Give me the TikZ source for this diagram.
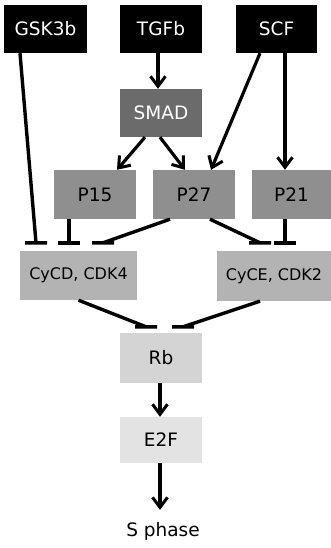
\documentclass[tikz,border=0pt]{standalone}
\usepackage{fontspec}
\setmainfont{DejaVu Sans}
\usetikzlibrary{arrows.meta}
\definecolor{csmad}{HTML}{6B6B6B}
\definecolor{cp}{HTML}{8F8F8F}
\definecolor{ccy}{HTML}{B3B3B3}
\definecolor{crb}{HTML}{D4D4D4}
\definecolor{ce2f}{HTML}{E3E3E3}
\tikzset{
  box/.style={rectangle, inner sep=0pt, minimum height=48pt, font=\fontsize{18.5}{22}\selectfont},
  topbox/.style={box, fill=black, text=white, minimum width=82pt},
  act/.style={line width=3.2pt, -{Straight Barb[length=10pt,width=15pt,line width=3pt]}},
  inh/.style={line width=3.4pt, to path={-- (\tikztotarget) \tikztonodes (\tikztotarget) ++(-11pt,0) -- ++(22pt,0)}},
}
\begin{document}
\begin{tikzpicture}[x=1pt,y=-1pt]
\useasboundingbox (0,0) rectangle (331,548);
\fill[white] (0,0) rectangle (331,548);
% nodes
\node[topbox, minimum width=83pt] (gsk) at (45.5,29) {GSK3b};
\node[topbox] (tgf) at (161,29) {TGFb};
\node[topbox, minimum width=81pt] (scf) at (276.5,29) {SCF};
\node[box, fill=csmad, text=white, minimum width=82pt] (smad) at (161,113) {SMAD};
\node[box, fill=cp, minimum width=82pt, minimum height=49pt] (p15) at (95,194.5) {P15};
\node[box, fill=cp, minimum width=82pt, minimum height=49pt] (p27) at (194,194.5) {P27};
\node[box, fill=cp, minimum width=79pt, minimum height=49pt] (p21) at (291.5,194.5) {P21};
\node[box, fill=ccy, minimum width=117pt, minimum height=49pt, font=\fontsize{16}{19}\selectfont] (cycd) at (78.5,275.5) {CyCD, CDK4};
\node[box, fill=ccy, minimum width=114pt, minimum height=50pt, font=\fontsize{16}{19}\selectfont] (cyce) at (274,276) {CyCE, CDK2};
\node[box, fill=crb, minimum width=82pt, minimum height=50pt] (rb) at (161,358) {Rb};
\node[box, fill=ce2f, minimum width=82pt, minimum height=46pt] (e2f) at (161,440) {E2F};
\node[inner sep=0pt, font=\fontsize{18.5}{22}\selectfont] (sph) at (163,531) {S phase};
% activation
\draw[act] ([xshift=-3pt]tgf.south) -- ([xshift=-3pt]smad.north);
\draw[act] ([xshift=-16pt]smad.south) -- ([xshift=22pt]p15.north);
\draw[act] ([xshift=-1pt]smad.south) -- ([xshift=-9pt]p27.north);
\draw[act] ([xshift=-16.5pt]scf.south) -- ([xshift=17pt]p27.north);
\draw[act] ([xshift=8.5pt]scf.south) -- ([xshift=-6.5pt]p21.north);
\draw[act] ([xshift=-1pt]rb.south) -- ([xshift=-1pt]e2f.north);
\draw[act] ([xshift=-1pt]e2f.south) -- ([xshift=-3pt,yshift=12pt]sph.north);
% inhibition
\draw[inh] ([xshift=-25.5pt]gsk.south) to ([xshift=-42.5pt,yshift=8pt]cycd.north);
\draw[inh] ([xshift=-26pt]p15.south) to ([xshift=-9.5pt,yshift=8pt]cycd.north);
\draw[inh] ([xshift=-24pt]p27.south) to ([xshift=24.5pt,yshift=8pt]cycd.north);
\draw[inh] ([xshift=16pt]p27.south) to ([xshift=-14pt,yshift=8pt]cyce.north);
\draw[inh] ([xshift=-6.5pt]p21.south) to ([xshift=11pt,yshift=8pt]cyce.north);
\draw[inh] (cycd.south) to ([xshift=-15pt,yshift=6pt]rb.north);
\draw[inh] ([xshift=-14pt]cyce.south) to ([xshift=22pt,yshift=6pt]rb.north);
\end{tikzpicture}
\end{document}
